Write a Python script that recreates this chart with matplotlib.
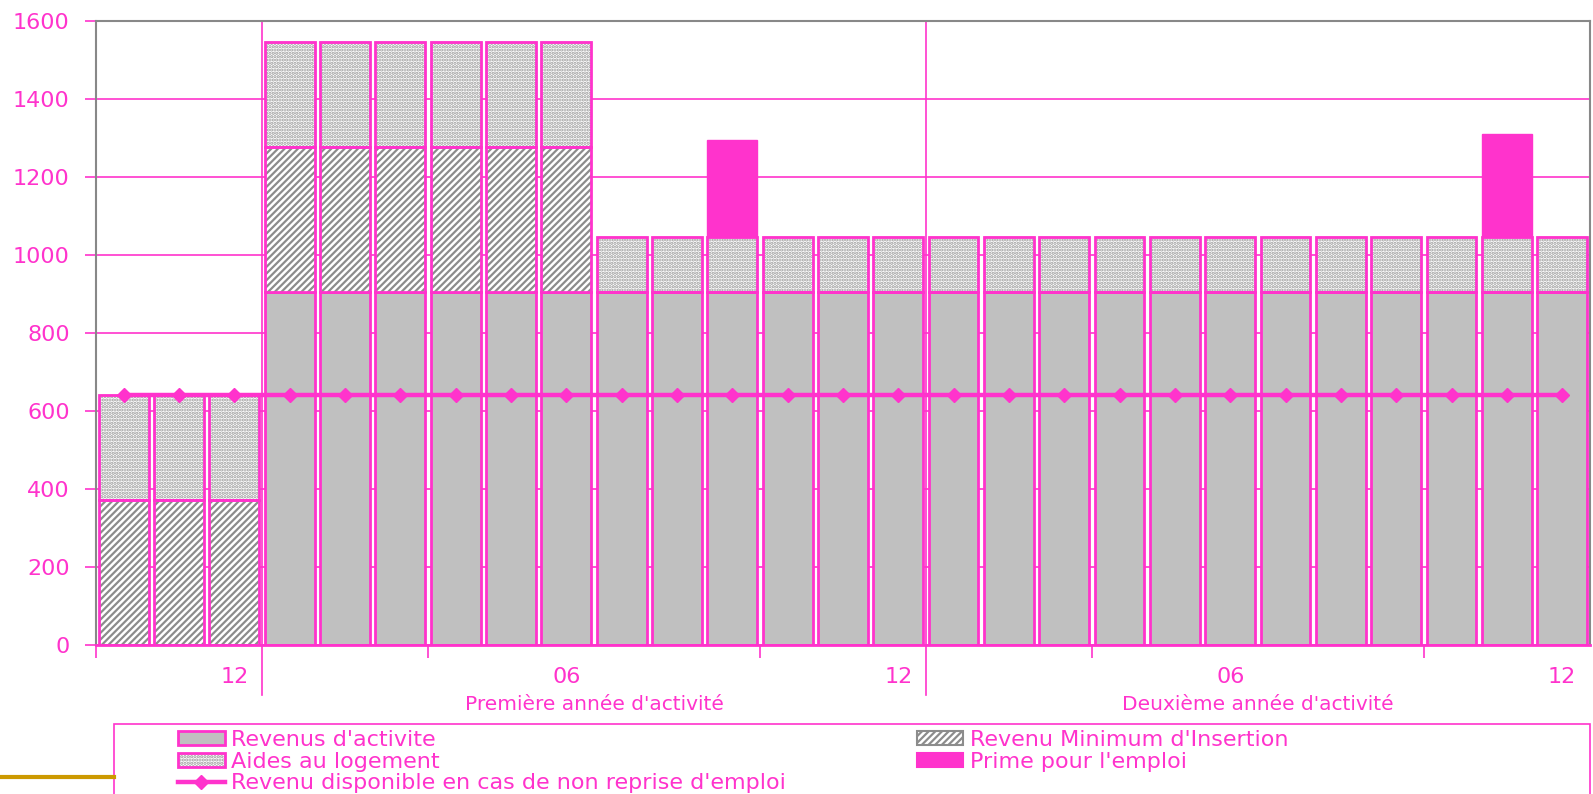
import matplotlib.pyplot as plt
from matplotlib.lines import Line2D
from matplotlib.patches import Patch, Rectangle

plt.rcParams['font.family'] = ['DejaVu Sans']
plt.rcParams['hatch.linewidth'] = 1.6

MAG = '#ff33cc'
GRAY = '#c0c0c0'
HATCH = '#8c8c8c'

# 27 months: 3 before activity, then two years of activity
revenus = [0, 0, 0] + [905] * 24
rmi = [370] * 9 + [0] * 18
aides = [270] * 9 + [140] * 18
prime = [0] * 27
prime[11] = 250
prime[25] = 265
disponible = [640] * 27

tick_pos = [2, 8, 14, 20, 26]
tick_labels = ['12', '06', '12', '06', '12']
year_labels = ["Première année d'activité", "Deuxième année d'activité"]

x = list(range(len(revenus)))
b_rmi = revenus
b_aides = [r + m for r, m in zip(revenus, rmi)]
b_prime = [r + m + a for r, m, a in zip(revenus, rmi, aides)]

fig = plt.figure(figsize=(15.93, 7.94), dpi=100)
ax = fig.add_axes([0.0603, 0.188, 0.9377, 0.786])

w = 0.9
ax.bar(x, revenus, w, color=GRAY, edgecolor=MAG, lw=2, zorder=3)
# hatched fills first, magenta outlines drawn over them
ax.bar(x, rmi, w, bottom=b_rmi, color='white', edgecolor=HATCH, lw=0,
       hatch='/////', zorder=3)
ax.bar(x, rmi, w, bottom=b_rmi, fill=False, edgecolor=MAG, lw=2, zorder=4)
ax.bar(x, aides, w, bottom=b_aides, color='white', edgecolor='#9a9a9a', lw=0,
       hatch='.....', zorder=3)
ax.bar(x, aides, w, bottom=b_aides, fill=False, edgecolor=MAG, lw=2, zorder=4)
ax.bar(x, prime, w, bottom=b_prime, color=MAG, edgecolor=MAG, lw=1, zorder=3)
ax.plot(x, disponible, color=MAG, lw=3.2, marker='D', ms=7.5, zorder=5)

ax.set_xlim(-0.5, 26.5)
ax.set_ylim(0, 1600)
ax.set_yticks(range(0, 1601, 200))
ax.yaxis.grid(True, color=MAG, lw=1.2, zorder=0)
ax.set_axisbelow(True)
ax.tick_params(axis='y', colors=MAG, labelsize=16, length=8, width=1.2, pad=11)

ax.set_xticks([-0.5, 5.5, 11.5, 17.5, 23.5])
ax.set_xticklabels([])
ax.tick_params(axis='x', colors=MAG, length=9, width=1.2)
for p, lab in zip(tick_pos, tick_labels):
    ax.text(p, -57, lab, color=MAG, fontsize=16, ha='center', va='top',
            clip_on=False)
for p, lab in zip([8.5, 20.5], year_labels):
    ax.text(p, -130, lab, color=MAG, fontsize=14.5, ha='center', va='top',
            clip_on=False)
for sep in [2.5, 14.5]:
    ax.plot([sep, sep], [-130, 1600], color=MAG, lw=1.2, clip_on=False,
            zorder=2)

for s in ['top', 'left', 'right']:
    ax.spines[s].set_color('#888888')
    ax.spines[s].set_linewidth(1.5)
ax.spines['bottom'].set_color(MAG)
ax.spines['bottom'].set_linewidth(2)
ax.spines['bottom'].set_zorder(6)

# legend box (runs off the bottom of the figure)
fig.add_artist(Rectangle((0.0716, -0.05), 0.9265, 0.138, fill=False,
                         edgecolor=MAG, lw=1.2, transform=fig.transFigure))

handles = [
    Patch(facecolor=GRAY, edgecolor=MAG, lw=2),
    (Patch(facecolor='white', edgecolor='#9a9a9a', hatch='.....', lw=0),
     Patch(fill=False, edgecolor=MAG, lw=2)),
    Line2D([], [], color=MAG, lw=3.2, marker='D', ms=7.5),
    Patch(facecolor='white', edgecolor=HATCH, hatch='/////', lw=1.5),
    Patch(facecolor=MAG, edgecolor=MAG, lw=1.5),
]
labels = ["Revenus d'activite", "Aides au logement",
          "Revenu disponible en cas de non reprise d'emploi",
          "Revenu Minimum d'Insertion", "Prime pour l'emploi"]
leg = fig.legend(handles, labels, ncol=2, loc='upper left',
                 bbox_to_anchor=(0.1117, 0.0806), bbox_transform=fig.transFigure,
                 fontsize=16, frameon=False,
                 handlelength=2.1, handleheight=0.6, handletextpad=0.3,
                 labelspacing=0.07, columnspacing=5.87, borderpad=0,
                 borderaxespad=0)
for t in leg.get_texts():
    t.set_color(MAG)

fig.add_artist(Line2D([0, 0.0716], [0.0214, 0.0214], color='#cc9900', lw=3,
                      transform=fig.transFigure))

fig.savefig('out.png', dpi=100)
